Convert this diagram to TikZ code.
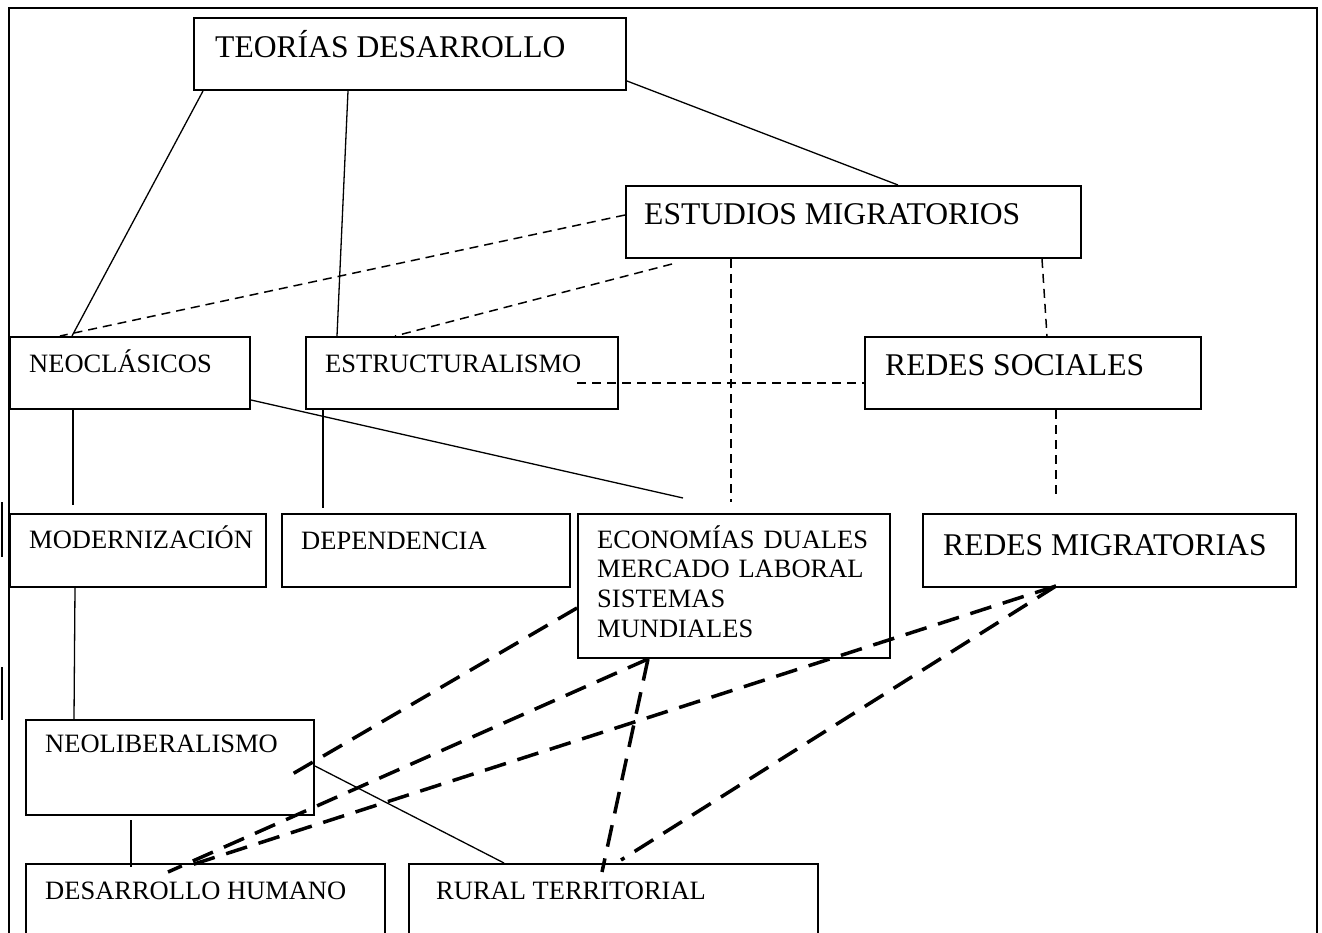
\documentclass[tikz,border=0pt]{standalone}
\usepackage{fontspec}
\setmainfont{Liberation Serif}
\usetikzlibrary{calc}
\tikzset{
  box/.style={draw, line width=2pt, inner sep=0pt, anchor=north west},
  bigtxt/.style={font=\fontsize{31.6}{35}\selectfont, inner sep=0pt, anchor=base west},
  smalltxt/.style={font=\fontsize{26.5}{29.7}\selectfont, inner sep=0pt, anchor=base west, align=left},
  conn/.style={line width=1.3pt},
  lightdash/.style={line width=1.5pt, dash pattern=on 9pt off 6pt},
  heavydash/.style={line width=3.5pt, dash pattern=on 22pt off 12pt},
  frameline/.style={line width=2.5pt},
}
\begin{document}
\begin{tikzpicture}[x=1pt, y=-1pt]
\useasboundingbox (0,0) rectangle (1322,933);
\clip (0,0) rectangle (1322,933);
% outer frame
\draw[frameline] (9,960) -- (9,8) -- (1317,8) -- (1317,960);
\draw[line width=2pt] (1.7,502) -- (1.7,557);
\draw[line width=2pt] (1.7,667) -- (1.7,720);
% boxes
\node[box, minimum width=432pt, minimum height=72pt] (teo) at (193,17) {};
\node[box, minimum width=455pt, minimum height=72pt] (est) at (625,185) {};
\node[box, minimum width=240pt, minimum height=72pt] (neo) at (9,336) {};
\node[box, minimum width=312pt, minimum height=72pt] (estr) at (305,336) {};
\node[box, minimum width=336pt, minimum height=72pt] (rs) at (864,336) {};
\node[box, minimum width=256pt, minimum height=73pt] (mod) at (9,513) {};
\node[box, minimum width=288pt, minimum height=73pt] (dep) at (281,513) {};
\node[box, minimum width=312pt, minimum height=144pt] (eco) at (577,513) {};
\node[box, minimum width=373pt, minimum height=73pt] (rm) at (922,513) {};
\node[box, minimum width=288pt, minimum height=95pt] (nlib) at (25,719) {};
\node[box, minimum width=359pt, minimum height=90pt] (dh) at (25,863) {};
\node[box, minimum width=409pt, minimum height=90pt] (rt) at (408,863) {};
% texts
\node[bigtxt] (teot) at (215,58) {TEORÍAS DESARROLLO};
\node[bigtxt] (estt) at (644,225) {ESTUDIOS MIGRATORIOS};
\node[smalltxt] (neot) at (29,372) {NEOCLÁSICOS};
\node[smalltxt] (estrt) at (325,372) {ESTRUCTURALISMO};
\node[bigtxt] (rst) at (885,375) {REDES SOCIALES};
\node[smalltxt] (modt) at (29,548) {MODERNIZACIÓN};
\node[smalltxt] (dept) at (301,549) {DEPENDENCIA};
\node[smalltxt, text width=290pt] (ecot) at (597,548) {ECONOMÍAS DUALES\\MERCADO LABORAL\\SISTEMAS\\MUNDIALES};
\node[bigtxt] (rmt) at (943,555) {REDES MIGRATORIAS};
\node[smalltxt] (nlibt) at (45,752) {NEOLIBERALISMO};
\node[smalltxt] (dht) at (45,899) {DESARROLLO HUMANO};
\node[smalltxt] (rtt) at (436,899) {RURAL TERRITORIAL};
% solid connectors
\draw[conn] ($(teo.south west)+(10,0)$) -- ($(neo.north west)+(63,0)$);
\draw[conn] ($(teo.south west)+(155,0)$) -- ($(estr.north west)+(32,0)$);
\draw[conn] ($(teo.south east)+(0,-10)$) -- ($(est.north west)+(273,0)$);
\draw[conn] ($(neo.south west)+(64,0)$) -- ($(mod.north west)+(64,-8)$);
\draw[conn] ($(estr.south west)+(18,0)$) -- ($(dep.north west)+(42,-5)$);
\draw[conn] ($(neo.south east)+(0,-10)$) -- ($(eco.north west)+(106,-15)$);
\draw[conn] ($(mod.south west)+(66,0)$) -- ($(nlib.north west)+(49,0)$);
\draw[conn] ($(nlib.south west)+(106,4)$) -- ($(dh.north west)+(106,4)$);
\draw[conn] ($(nlib.north east)+(0,47)$) -- ($(rt.north west)+(96,0)$);
% light dashed connectors
\draw[lightdash] ($(est.north west)+(0,30)$) -- ($(neo.north west)+(51,0)$);
\draw[lightdash] ($(est.south west)+(47,5)$) -- ($(estr.north west)+(90,0)$);
\draw[lightdash] ($(est.south west)+(106,0)$) -- ($(eco.north west)+(154,-11)$);
\draw[lightdash] ($(est.south west)+(417,0)$) -- ($(rs.north west)+(183,0)$);
\draw[lightdash] ($(estr.north west)+(272,47)$) -- ($(rs.north west)+(0,47)$);
\draw[lightdash] ($(rs.south west)+(192,0)$) -- ($(rm.north west)+(134,-15)$);
% heavy dashed connectors
\draw[heavydash] ($(eco.north west)+(0,95)$) -- ($(nlib.north west)+(264,57)$);
\draw[heavydash] ($(eco.south west)+(71,0)$) -- ($(dh.north west)+(143,9)$);
\draw[heavydash] ($(eco.south west)+(71,0)$) -- ($(rt.north west)+(194,9)$);
\draw[heavydash] ($(rm.south west)+(134,-2)$) -- ($(dh.north west)+(160,4)$);
\draw[heavydash] ($(rm.south west)+(134,-2)$) -- ($(rt.north west)+(213,-3)$);
\end{tikzpicture}
\end{document}
